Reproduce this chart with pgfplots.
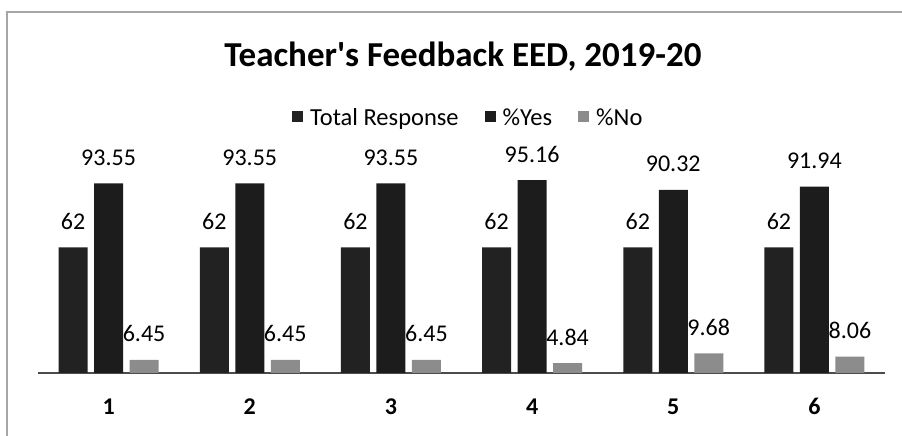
\documentclass[border=0pt]{standalone}
\usepackage{pgfplots}
\pgfplotsset{compat=1.18}
\usepackage{fontspec}
\setmainfont{Carlito}
\definecolor{barDark}{HTML}{222222}
\definecolor{barYes}{HTML}{1C1C1C}
\definecolor{barNo}{HTML}{8C8C8C}
\begin{document}
\begin{tikzpicture}[x=1pt,y=1pt]
\path[use as bounding box] (0,0) rectangle (902,436);
\draw[gray!70, line width=1.5pt] (7,0) -- (7,424) -- (902,424);
\node[font=\fontsize{35}{40}\selectfont\bfseries] at (463,379) {Teacher\textquotesingle s Feedback EED, 2019-20};
\begin{axis}[
  at={(38pt,63pt)}, anchor=south west,
  scale only axis, width=847pt, height=223pt,
  enlargelimits=false,
  ymin=0, ymax=110, xmin=0.5, xmax=6.5,
  xtick={1,2,3,4,5,6},
  /pgf/number format/assume math mode=true,
  axis x line*=bottom, axis y line=none,
  x axis line style={-, draw=black!70, line width=1.2pt},
  major tick length=0pt,
  xticklabel style={font=\fontsize{24}{28}\selectfont\bfseries, anchor=base, yshift=-42pt},
  ybar, bar width=29pt,
  point meta=explicit symbolic,
  nodes near coords={\pgfplotspointmeta},
  nodes near coords style={font=\fontsize{24}{28}\selectfont, anchor=base, yshift=18pt, text=black},
  legend style={at={(axis description cs:0.508,1.1435)}, anchor=center, draw=none, fill=none,
    legend columns=3, font=\fontsize{24.5}{28}\selectfont,
    /tikz/every odd column/.append style={column sep=5pt},
    /tikz/every even column/.append style={column sep=24pt}},
  legend image code/.code={\fill[#1,draw=none] (0pt,-4pt) rectangle (11pt,7pt);},
]
\addplot[fill=barDark, draw=none, bar shift=-35.5pt] coordinates {
 (1,62) [62] (2,62) [62] (3,62) [62] (4,62) [62] (5,62) [62] (6,62) [62]};
\addplot[fill=barYes, draw=none, bar shift=0pt] coordinates {
 (1,93.55) [93.55] (2,93.55) [93.55] (3,93.55) [93.55] (4,95.16) [95.16] (5,90.32) [90.32] (6,91.94) [91.94]};
\addplot[fill=barNo, draw=none, bar shift=35.5pt] coordinates {
 (1,6.45) [6.45] (2,6.45) [6.45] (3,6.45) [6.45] (4,4.84) [4.84] (5,9.68) [9.68] (6,8.06) [8.06]};
\legend{Total Response, \%Yes, \%No}
\end{axis}
\end{tikzpicture}
\end{document}
